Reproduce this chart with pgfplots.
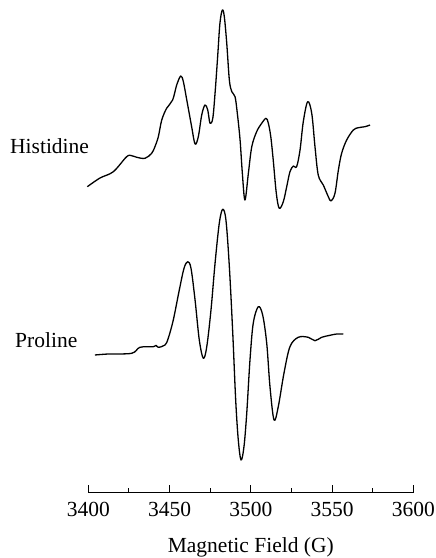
\documentclass[border=0pt]{standalone}
\usepackage{pgfplots}
\pgfplotsset{compat=1.18}
\usepackage{fontspec}
\setmainfont{Liberation Serif}

% EPR spectra (first-derivative traces), vertically offset
\pgfplotstableread{
B      I
3399.4 313.3
3407.2 322.0
3415.4 328.3
3423.6 343.3
3426.7 344.3
3429.8 342.7
3434.9 341.7
3439.0 346.7
3441.0 353.3
3443.1 363.3
3445.2 380.0
3448.2 391.7
3451.9 400.0
3454.4 415.0
3456.9 424.0
3458.5 418.3
3460.6 400.0
3463.6 373.3
3465.7 356.0
3467.7 363.3
3469.8 385.0
3471.8 395.0
3473.5 390.0
3474.9 376.7
3476.6 381.7
3478.0 406.7
3479.6 443.3
3481.0 476.7
3482.5 490.0
3483.7 483.3
3485.2 456.7
3486.8 420.0
3488.3 408.3
3490.3 403.3
3491.7 386.7
3493.4 360.0
3494.8 326.7
3496.4 300.0
3498.5 326.7
3500.6 353.3
3503.6 368.3
3506.7 376.7
3509.4 381.7
3510.8 376.7
3512.3 363.3
3513.8 340.0
3515.7 306.7
3517.5 291.7
3520.0 298.3
3522.1 313.3
3524.1 328.3
3526.2 334.0
3528.2 333.3
3530.3 350.0
3532.3 378.3
3535.0 398.3
3537.5 386.7
3539.5 353.3
3541.5 325.0
3544.6 315.0
3547.7 303.3
3549.4 299.0
3551.8 306.7
3553.9 330.0
3555.9 346.7
3559.0 360.0
3563.1 370.0
3566.2 372.3
3570.3 373.3
3573.4 375.0
}\histidine

\pgfplotstableread{
B      I
3404.1 145.0
3412.3 146.0
3426.7 146.7
3431.8 152.7
3440.0 153.3
3441.7 154.7
3443.1 152.7
3447.2 155.0
3449.2 161.7
3452.3 180.0
3456.0 210.0
3458.9 231.7
3461.2 238.3
3463.2 231.7
3465.7 200.0
3468.3 160.0
3470.8 141.7
3472.9 153.3
3475.5 190.0
3478.0 236.7
3480.6 276.7
3482.7 290.7
3484.7 280.0
3486.8 233.3
3488.9 166.7
3490.7 100.0
3492.3 60.0
3494.0 40.0
3495.8 53.3
3497.5 86.7
3499.5 140.0
3501.5 176.7
3504.6 193.3
3507.3 185.0
3509.8 156.7
3511.8 113.3
3514.3 80.0
3516.9 93.3
3520.4 126.7
3524.1 153.3
3529.2 162.7
3535.4 162.7
3539.5 159.3
3543.6 162.7
3548.7 164.7
3552.9 166.0
3556.9 166.0
}\proline

\begin{document}
\fontsize{21.5bp}{26bp}\selectfont
\begin{tikzpicture}
\begin{axis}[
  scale only axis,
  width=325bp, height=492.5bp,
  xmin=3400, xmax=3600,
  ymin=7.5, ymax=500,
  axis x line=bottom,
  axis y line=none,
  axis line style={-, line width=0.9bp},
  xtick={3400,3450,...,3600},
  minor x tick num=1,
  tick align=inside,
  major tick length=7bp,
  minor tick length=4.5bp,
  every tick/.style={black, line width=0.9bp},
  /pgf/number format/1000 sep={},
  /pgf/number format/assume math mode=true,
  xticklabel style={anchor=base, yshift=-24.2bp, inner sep=0pt},
  xlabel={Magnetic Field (G)},
  xlabel style={at={(axis description cs:0.5,0)}, anchor=base, yshift=-59.5bp, inner sep=0pt},
  clip=false,
]
\addplot[black, line width=1.3bp, smooth, tension=0.55, line join=round] table[x=B, y=I] {\histidine};
\addplot[black, line width=1.3bp, smooth, tension=0.55, line join=round] table[x=B, y=I] {\proline};
\node[anchor=base west, inner sep=0pt] at (axis cs:3351.8,346.7) {Histidine};
\node[anchor=base west, inner sep=0pt] at (axis cs:3354.9,152.3) {Proline};
\coordinate (O) at (axis cs:3400,7.5);
\end{axis}
% page extent
\path ([xshift=-88.3bp,yshift=-65.5bp]O) rectangle ([xshift=347.7bp,yshift=492.5bp]O);
\end{tikzpicture}
\end{document}
